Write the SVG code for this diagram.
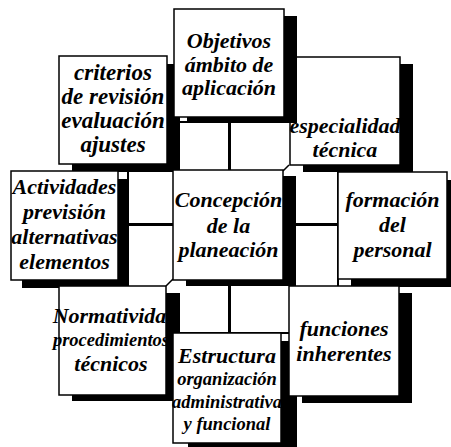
<svg xmlns="http://www.w3.org/2000/svg" width="451" height="447" viewBox="0 0 451 447">
<style>
.sh{fill:#000}
.bx{fill:#fff;stroke:#000;stroke-width:1.5}
.t{font-family:"Liberation Serif","Times New Roman",serif;font-weight:bold;font-style:italic;font-size:22px;fill:#000;text-anchor:middle}
.s{font-size:18.5px}
.div{stroke:#000;stroke-width:3;fill:none}
</style>
<rect width="451" height="447" fill="#fff"/>
<g id="connectors">
<rect x="128" y="122" width="210" height="211" fill="#fff" stroke="#000" stroke-width="2"/>
<line class="div" x1="229.5" y1="122" x2="229.5" y2="333"/>
<line class="div" x1="128" y1="224.5" x2="338" y2="224.5"/>
<path d="M283,171 L289,165 M166,286 L173,279" stroke="#000" stroke-width="1.5" fill="none"/>
</g>
<g id="especialidad">
<rect class="sh" x="303" y="64" width="110" height="108"/>
<rect class="bx" x="290" y="57" width="110" height="108"/>
<text class="t" x="345" y="133">especialidad</text>
<text class="t" x="345" y="157">técnica</text>
</g>
<g id="criterios">
<rect class="sh" x="72" y="64" width="108" height="108"/>
<rect class="bx" x="59" y="56" width="108" height="108"/>
<text class="t" x="113" y="80" style="font-size:23px">criterios</text>
<text class="t" x="113" y="104" style="font-size:23px">de revisión</text>
<text class="t" x="113" y="128" style="font-size:23px">evaluación</text>
<text class="t" x="113" y="152" style="font-size:23px">ajustes</text>
</g>
<g id="objetivos">
<rect class="sh" x="187" y="16" width="110" height="107"/>
<rect class="bx" x="174" y="9" width="110" height="108"/>
<text class="t" x="229" y="48">Objetivos</text>
<text class="t" x="229" y="72">ámbito de</text>
<text class="t" x="229" y="95">aplicación</text>
</g>
<g id="actividades">
<rect class="sh" x="22" y="179" width="107" height="109"/>
<rect class="bx" x="11" y="171" width="107" height="109"/>
<text class="t" x="64.5" y="194">Actividades</text>
<text class="t" x="64.5" y="219">previsión</text>
<text class="t" x="64.5" y="244">alternativas</text>
<text class="t" x="64.5" y="269">elementos</text>
</g>
<g id="concepcion">
<rect class="sh" x="186" y="176" width="110" height="110"/>
<rect class="bx" x="173" y="170" width="110" height="110"/>
<text class="t" x="228.5" y="207">Concepción</text>
<text class="t" x="228.5" y="233">de la</text>
<text class="t" x="228.5" y="257">planeación</text>
</g>
<g id="formacion">
<rect class="sh" x="351" y="180" width="109" height="107"/>
<rect class="bx" x="338" y="172" width="109" height="107"/>
<text class="t" x="392.5" y="207">formación</text>
<text class="t" x="392.5" y="232">del</text>
<text class="t" x="392.5" y="257">personal</text>
</g>
<g id="normatividad">
<rect class="sh" x="72" y="293" width="108" height="108"/>
<rect class="bx" x="59" y="286" width="107" height="109"/>
<text class="t" x="115" y="323">Normatividad</text>
<text class="t s" x="111" y="346">procedimientos</text>
<text class="t" x="111" y="371">técnicos</text>
</g>
<g id="estructura">
<rect class="sh" x="188" y="341" width="109" height="110"/>
<rect class="bx" x="173" y="333" width="108" height="110"/>
<text class="t" x="227" y="363">Estructura</text>
<text class="t s" x="227" y="385">organización</text>
<text class="t s" x="227" y="408">administrativa</text>
<text class="t s" x="227" y="430">y funcional</text>
</g>
<g id="funciones">
<rect class="sh" x="302" y="293" width="110" height="110"/>
<rect class="bx" x="289" y="286" width="110" height="110"/>
<text class="t" x="344" y="336">funciones</text>
<text class="t" x="344" y="361">inherentes</text>
</g>
</svg>
